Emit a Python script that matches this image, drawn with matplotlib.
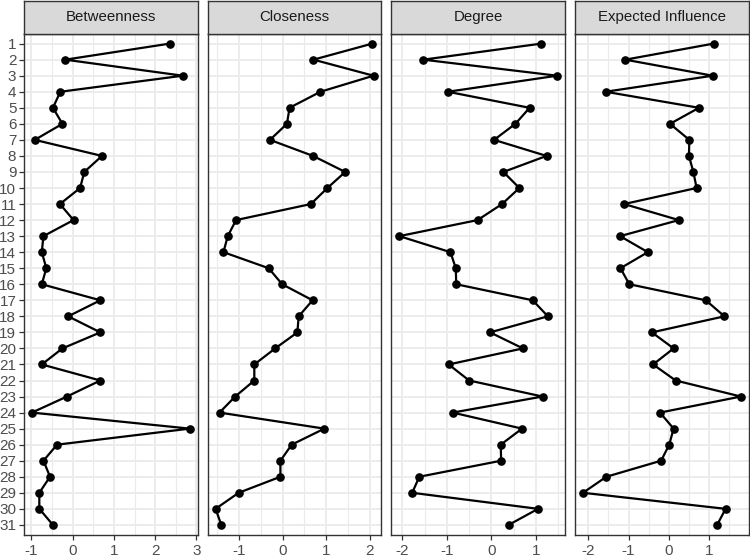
import matplotlib
matplotlib.use("Agg")
import matplotlib.pyplot as plt
import numpy as np

plt.rcParams['font.family'] = ['Liberation Sans', 'DejaVu Sans']
plt.rcParams['axes.unicode_minus'] = False

nodes = list(range(1, 32))
measures = ["Betweenness", "Closeness", "Degree", "Expected Influence"]

betweenness = [2.35, -0.18, 2.67, -0.30, -0.48, -0.25, -0.92, 0.71, 0.28, 0.18,
               -0.31, 0.02, -0.71, -0.75, -0.64, -0.75, 0.67, -0.11, 0.67, -0.25,
               -0.75, 0.67, -0.14, -0.99, 2.84, -0.38, -0.71, -0.55, -0.81, -0.81,
               -0.48]
closeness = [2.06, 0.71, 2.09, 0.87, 0.16, 0.10, -0.29, 0.70, 1.44, 1.03,
             0.65, -1.07, -1.26, -1.36, -0.32, -0.01, 0.69, 0.37, 0.34, -0.17,
             -0.65, -0.65, -1.09, -1.45, 0.96, 0.21, -0.05, -0.05, -1.01, -1.54,
             -1.41]
degree = [1.12, -1.53, 1.48, -0.98, 0.86, 0.54, 0.06, 1.24, 0.27, 0.63,
          0.24, -0.31, -2.07, -0.92, -0.80, -0.79, 0.93, 1.27, -0.03, 0.71,
          -0.96, -0.50, 1.15, -0.87, 0.69, 0.21, 0.22, -1.62, -1.78, 1.05,
          0.39]
expected_influence = [1.11, -1.08, 1.09, -1.57, 0.75, 0.03, 0.51, 0.50, 0.61, 0.69,
                      -1.11, 0.25, -1.21, -0.52, -1.20, -0.98, 0.92, 1.38, -0.42, 0.12,
                      -0.39, 0.17, 1.79, -0.22, 0.12, 0.01, -0.19, -1.55, -2.13, 1.41,
                      1.20]

series = [betweenness, closeness, degree, expected_influence]
xticks = [[-1, 0, 1, 2, 3], [-1, 0, 1, 2], [-2, -1, 0, 1], [-2, -1, 0, 1]]

W, H = 750, 557
fig = plt.figure(figsize=(W / 100, H / 100), dpi=100)

lefts = [24, 207.7, 391.4, 575.1]
pw = 173.7
ptop, pbot = 34.0, 534.5
stop = 0.5

dark = "#333333"
for i, (name, vals, xt) in enumerate(zip(measures, series, xticks)):
    L = lefts[i]
    ax = fig.add_axes([L / W, 1 - pbot / H, pw / W, (pbot - ptop) / H])
    # grid
    ax.set_xticks(xt)
    ax.set_xticks([t + 0.5 for t in range(-3, 4)], minor=True)
    ax.set_yticks(nodes)
    vmin, vmax = min(vals), max(vals)
    pad = 0.05 * (vmax - vmin)
    ax.set_xlim(vmin - pad, vmax + pad)
    ax.set_ylim(31.6, 0.4)
    ax.grid(True, which='major', color="#EBEBEB", lw=1.3)
    ax.grid(True, which='minor', axis='x', color="#EBEBEB", lw=0.8)
    ax.set_axisbelow(True)
    ax.tick_params(which='minor', length=0)
    ax.plot(vals, nodes, color="black", lw=1.6, marker='o', ms=5.2, zorder=3)
    for s in ax.spines.values():
        s.set_color(dark)
        s.set_linewidth(1.0)
    ax.tick_params(axis='both', which='major', length=3.5, width=0.9, color=dark,
                   labelcolor="#4D4D4D", labelsize=11, pad=2)
    ax.tick_params(axis='x', pad=3)
    ax.set_xticklabels([str(t) for t in xt])
    if i == 0:
        ax.set_yticklabels([str(n) for n in nodes])
    else:
        ax.tick_params(axis='y', left=False, labelleft=False)
    # strip
    sax = fig.add_axes([L / W, 1 - ptop / H, pw / W, (ptop - stop) / H])
    sax.set_facecolor("#D9D9D9")
    sax.set_xticks([])
    sax.set_yticks([])
    for s in sax.spines.values():
        s.set_color(dark)
        s.set_linewidth(1.0)
    sax.text(0.5, 0.5, name, ha='center', va='center', fontsize=10.8,
             color="#1A1A1A", transform=sax.transAxes)

fig.savefig("out.png", dpi=100)
